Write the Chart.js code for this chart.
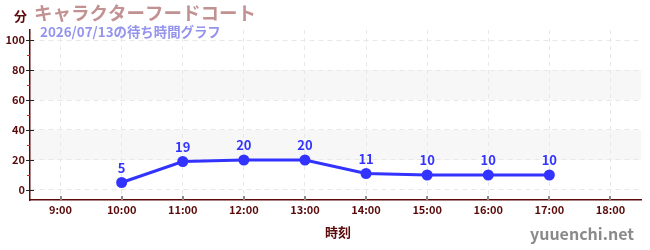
<!DOCTYPE html>
<html><head><meta charset="utf-8">
<script src="https://cdn.jsdelivr.net/npm/chart.js@4/dist/chart.umd.min.js"></script>
<style>html,body{margin:0;padding:0;background:#fff}#wrap{position:relative;width:650px;height:250px}</style>
</head><body><div id="wrap"><canvas id="c" width="650" height="250"></canvas></div>
<script>
const hours = [10, 11, 12, 13, 14, 15, 16, 17];
const waits = [5, 19, 20, 20, 11, 10, 10, 10];
const xTicks = [9, 10, 11, 12, 13, 14, 15, 16, 17, 18];
const yTicks = [0, 20, 40, 60, 80, 100];
const yMinor = [10, 30, 50, 70, 90];
const bands = [[20, 40], [60, 80]];
const titleText = 'キャラクターフードコート';
const subtitleText = '2026/07/13の待ち時間グラフ';
const yUnit = '分';
const xTitle = '時刻';
const watermark = 'yuuenchi.net';

const FONT = '"Noto Sans CJK JP", "Noto Sans", sans-serif';
const MAROON = '#5a0a0a';
const BLUE = '#3333ff';

const deco = {
  id: 'deco',
  beforeDraw(chart) {
    const {ctx, chartArea: a, scales: {y}} = chart;
    ctx.save();
    ctx.fillStyle = '#f7f7f7';
    bands.forEach(([lo, hi]) => {
      const t = y.getPixelForValue(hi), b = y.getPixelForValue(lo);
      ctx.fillRect(a.left, t, a.right - a.left, b - t);
    });
    ctx.restore();
  },
  afterDraw(chart) {
    const {ctx, chartArea: a, scales: {x, y}} = chart;
    ctx.save();
    ctx.lineWidth = 1;
    ctx.strokeStyle = '#dd2222';
    yMinor.forEach(v => {
      const py = Math.round(y.getPixelForValue(v)) + 0.5;
      ctx.beginPath(); ctx.moveTo(a.left - 3, py); ctx.lineTo(a.left, py); ctx.stroke();
    });
    ctx.strokeStyle = '#222';
    yTicks.forEach(v => {
      const py = Math.round(y.getPixelForValue(v)) + 0.5;
      ctx.beginPath(); ctx.moveTo(a.left - 4, py); ctx.lineTo(a.left + 4, py); ctx.stroke();
    });
    ctx.strokeStyle = '#888';
    ctx.lineWidth = 2;
    xTicks.forEach(v => {
      const px = Math.round(x.getPixelForValue(v));
      ctx.beginPath(); ctx.moveTo(px, a.bottom - 4); ctx.lineTo(px, a.bottom); ctx.stroke();
    });
    ctx.fillStyle = BLUE;
    ctx.font = 'bold 13px ' + FONT;
    ctx.textAlign = 'center';
    ctx.textBaseline = 'middle';
    const meta = chart.getDatasetMeta(0);
    meta.data.forEach((pt, i) => {
      ctx.fillText(String(waits[i]), pt.x, pt.y - 14.5);
    });
    ctx.textAlign = 'left';
    ctx.fillStyle = '#c29292';
    ctx.font = 'bold 18.5px ' + FONT;
    ctx.fillText(titleText, 34, 13);
    ctx.fillStyle = '#9494ee';
    ctx.font = 'bold 13.4px ' + FONT;
    ctx.fillText(subtitleText, 40, 32);
    ctx.fillStyle = MAROON;
    ctx.font = 'bold 13px ' + FONT;
    ctx.fillText(yUnit, 14, 16);
    ctx.textAlign = 'center';
    ctx.fillText(xTitle, 338, 232);
    ctx.textAlign = 'right';
    ctx.fillStyle = '#8a8a8a';
    ctx.font = 'bold 16px ' + FONT;
    ctx.fillText(watermark, 634, 234);
    ctx.restore();
  }
};

new Chart(document.getElementById('c'), {
  type: 'line',
  data: {
    datasets: [{
      data: hours.map((h, i) => ({x: h, y: waits[i]})),
      borderColor: BLUE,
      backgroundColor: BLUE,
      borderWidth: 3,
      pointRadius: 5.5,
      pointBackgroundColor: BLUE,
      pointBorderWidth: 0,
      tension: 0,
      fill: false
    }]
  },
  options: {
    responsive: false,
    animation: false,
    events: [],
    layout: {padding: {top: 30, right: 9, left: 0, bottom: 0}},
    plugins: {legend: {display: false}, tooltip: {enabled: false}, title: {display: false}},
    scales: {
      x: {
        type: 'linear', min: 8.5, max: 18.5,
        afterBuildTicks: s => { s.ticks = xTicks.map(v => ({value: v})); },
        afterFit: s => { s.height = 50; },
        grid: {color: '#e8e8e8', drawTicks: false},
        border: {color: MAROON, width: 1.5, dash: [4, 4]},
        ticks: {
          padding: 3, color: MAROON, font: {family: FONT, size: 11, weight: 'bold'},
          callback: v => v + ':00', maxRotation: 0, autoSkip: false
        }
      },
      y: {
        type: 'linear', min: -6.67, max: 106.67,
        afterBuildTicks: s => { s.ticks = yTicks.map(v => ({value: v})); },
        afterFit: s => { s.width = 30; },
        grid: {color: '#e8e8e8', drawTicks: false},
        border: {color: MAROON, width: 1.5, dash: [5, 4]},
        ticks: {padding: 5, color: MAROON, font: {family: FONT, size: 11, weight: 'bold'}}
      }
    }
  },
  plugins: [deco]
});
</script></body></html>
